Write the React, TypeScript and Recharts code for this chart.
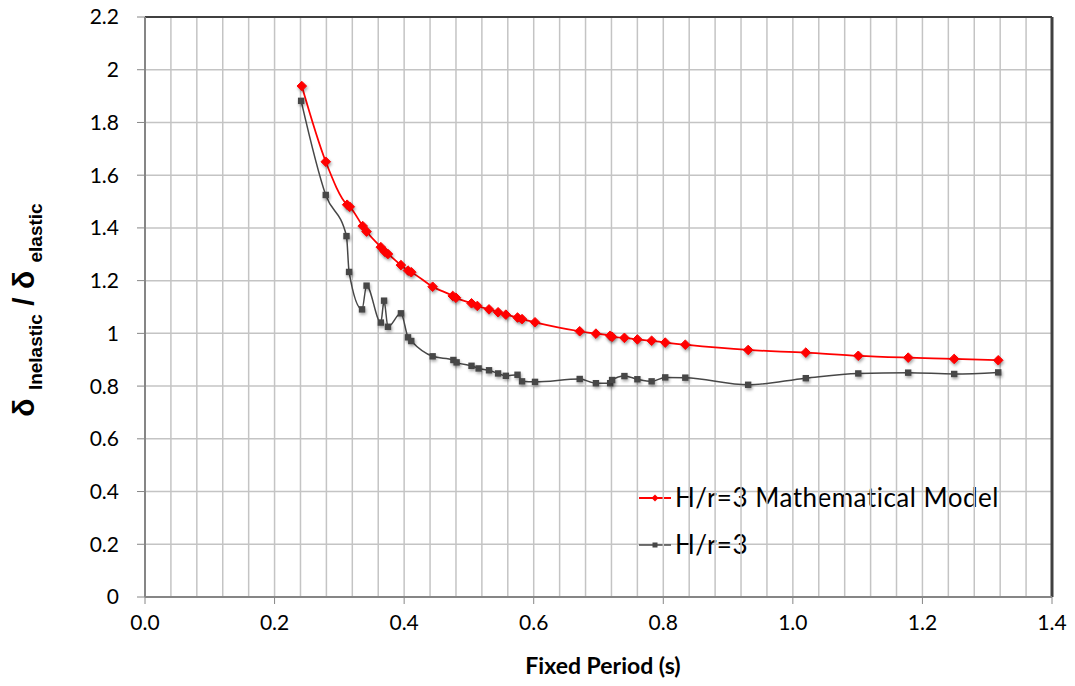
import React from 'react';
import { LineChart, Line, XAxis, YAxis, CartesianGrid, ReferenceLine } from 'recharts';

// H/r=3 Mathematical Model
const modelPeriods = [0.242, 0.279, 0.312, 0.316, 0.336, 0.342, 0.364, 0.370, 0.375, 0.395, 0.406, 0.411, 0.444, 0.475, 0.480, 0.504, 0.513, 0.531, 0.545, 0.557, 0.575, 0.582, 0.602, 0.671, 0.696, 0.718, 0.721, 0.740, 0.760, 0.782, 0.803, 0.834, 0.931, 1.020, 1.101, 1.178, 1.249, 1.317];
const modelRatios = [1.938, 1.651, 1.488, 1.480, 1.407, 1.386, 1.327, 1.310, 1.301, 1.259, 1.238, 1.232, 1.177, 1.142, 1.135, 1.114, 1.104, 1.091, 1.080, 1.071, 1.060, 1.054, 1.042, 1.008, 0.999, 0.991, 0.987, 0.983, 0.977, 0.972, 0.965, 0.957, 0.937, 0.927, 0.915, 0.908, 0.903, 0.898];

// H/r=3
const testPeriods = [0.241, 0.279, 0.311, 0.315, 0.335, 0.342, 0.364, 0.369, 0.375, 0.395, 0.406, 0.411, 0.444, 0.476, 0.481, 0.504, 0.515, 0.531, 0.545, 0.557, 0.575, 0.582, 0.602, 0.671, 0.696, 0.718, 0.721, 0.740, 0.760, 0.782, 0.803, 0.834, 0.931, 1.020, 1.101, 1.178, 1.249, 1.317];
const testRatios = [1.882, 1.525, 1.369, 1.233, 1.091, 1.181, 1.041, 1.124, 1.025, 1.076, 0.985, 0.971, 0.913, 0.899, 0.890, 0.877, 0.867, 0.860, 0.848, 0.839, 0.843, 0.818, 0.816, 0.827, 0.811, 0.811, 0.823, 0.838, 0.826, 0.818, 0.833, 0.832, 0.805, 0.830, 0.848, 0.851, 0.846, 0.852];

const xTicks = [0, 0.2, 0.4, 0.6, 0.8, 1.0, 1.2, 1.4];
const yTicks = [0, 0.2, 0.4, 0.6, 0.8, 1.0, 1.2, 1.4, 1.6, 1.8, 2.0, 2.2];
const minorXGrid = [0.04, 0.08, 0.12, 0.16, 0.2, 0.24, 0.28, 0.32, 0.36, 0.4, 0.44, 0.48, 0.52, 0.56, 0.6, 0.64, 0.68, 0.72, 0.76, 0.8, 0.84, 0.88, 0.92, 0.96, 1.0, 1.04, 1.08, 1.12, 1.16, 1.2, 1.24, 1.28, 1.32, 1.36];

const modelData = modelPeriods.map((x, i) => ({ x, y: modelRatios[i] }));
const testData = testPeriods.map((x, i) => ({ x, y: testRatios[i] }));

const RED = '#ff0000';
const GRAY = '#474747';
const FONT = 'Lato, "Open Sans", sans-serif';

const Diamond = (props: any) => {
  const { cx, cy, index } = props;
  if (cx == null || cy == null) return <g key={`d${index}`} />;
  const r = 4.8;
  return (
    <path
      key={`d${index}`}
      d={`M${cx},${cy - r}L${cx + r},${cy}L${cx},${cy + r}L${cx - r},${cy}Z`}
      fill={RED}
      stroke={RED}
      strokeWidth={1}
      style={{ filter: 'drop-shadow(1.5px 2px 1.5px rgba(0,0,0,0.35))' }}
    />
  );
};

const Square = (props: any) => {
  const { cx, cy, index } = props;
  if (cx == null || cy == null) return <g key={`s${index}`} />;
  const r = 3.2;
  return (
    <rect
      key={`s${index}`}
      x={cx - r}
      y={cy - r}
      width={2 * r}
      height={2 * r}
      fill={GRAY}
      style={{ filter: 'drop-shadow(1.5px 2px 1.5px rgba(0,0,0,0.35))' }}
    />
  );
};

const fmtY = (v: number) => String(parseFloat(v.toFixed(1)));
const fmtX = (v: number) => v.toFixed(1);

export default function App() {
  return (
    <div style={{ position: 'absolute', left: 0, top: 0, width: 1075, height: 686, background: '#fff' }}>
      <LineChart width={1075} height={686} margin={{ top: 17, right: 23, left: 0, bottom: 0 }}>
        <CartesianGrid vertical={false} stroke="#c4c4c4" strokeWidth={1.5} />
        {minorXGrid.map((v) => (
          <ReferenceLine key={`g${v}`} x={v} stroke="#c4c4c4" strokeWidth={1.5} />
        ))}
        <ReferenceLine y={2.2} stroke="#404040" strokeWidth={2} />
        <ReferenceLine x={1.4} stroke="#404040" strokeWidth={3} />
        <XAxis
          type="number"
          dataKey="x"
          domain={[0, 1.4]}
          ticks={xTicks}
          tickFormatter={fmtX}
          allowDataOverflow
          height={89}
          tickSize={7}
          tickMargin={11}
          axisLine={{ stroke: '#868686', strokeWidth: 2 }}
          tickLine={{ stroke: '#868686', strokeWidth: 1 }}
          tick={{ fill: '#000', fontSize: 21, fontFamily: FONT }}
        />
        <YAxis
          type="number"
          domain={[0, 2.2]}
          ticks={yTicks}
          tickFormatter={fmtY}
          allowDataOverflow
          width={145}
          tickSize={8}
          tickMargin={18}
          axisLine={{ stroke: '#868686', strokeWidth: 2 }}
          tickLine={{ stroke: '#868686', strokeWidth: 1 }}
          tick={{ fill: '#000', fontSize: 21, fontFamily: FONT }}
        />
        <Line
          data={testData}
          dataKey="y"
          type="monotoneX"
          stroke={GRAY}
          strokeWidth={1.5}
          dot={Square}
          activeDot={false}
          isAnimationActive={false}
          name="H/r=3"
        />
        <Line
          data={modelData}
          dataKey="y"
          type="monotoneX"
          stroke={RED}
          strokeWidth={1.75}
          dot={Diamond}
          activeDot={false}
          isAnimationActive={false}
          name="H/r=3 Mathematical Model"
        />
        {/* Axis titles */}
        <text
          x={34}
          y={310}
          textAnchor="middle"
          transform="rotate(-90 34 310)"
          fontFamily='"Liberation Sans", Arial, sans-serif'
          fontWeight="bold"
          fill="#000"
        >
          <tspan fontSize={30}>δ </tspan>
          <tspan fontSize={19} dy={8}>Inelastic</tspan>
          <tspan fontSize={30} dy={-8}> / δ </tspan>
          <tspan fontSize={19} dy={8}>elastic</tspan>
        </text>
        <text x={603} y={674} textAnchor="middle" fontFamily={FONT} fontWeight="bold" fontSize={23} fill="#000">
          Fixed Period (s)
        </text>
        {/* Legend */}
        <g>
          <line x1={639} y1={498} x2={671} y2={498} stroke={RED} strokeWidth={2} />
          <path d="M655,494.5L658.5,498L655,501.5L651.5,498Z" fill={RED} />
          <text x={675} y={507} fontFamily={FONT} fontSize={26} letterSpacing={0.5} fill="#000">H/r=3 Mathematical Model</text>
          <line x1={639} y1={545} x2={671} y2={545} stroke={GRAY} strokeWidth={1.5} />
          <rect x={652.5} y={542.5} width={5} height={5} fill={GRAY} />
          <text x={675} y={554} fontFamily={FONT} fontSize={26} letterSpacing={0.5} fill="#000">H/r=3</text>
        </g>
      </LineChart>
    </div>
  );
}
